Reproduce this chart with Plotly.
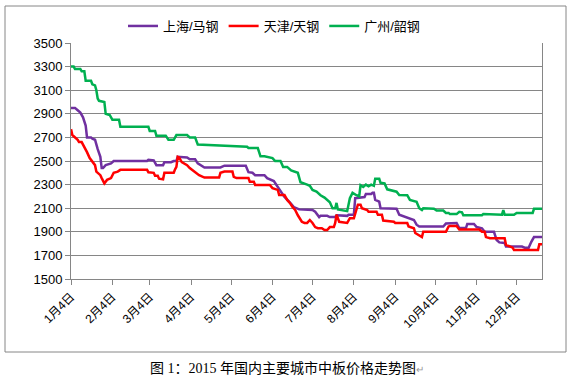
import plotly.graph_objects as go

# ---- data ----
sh_dates = ["2015-01-04","2015-01-07","2015-01-09","2015-01-11","2015-01-13","2015-01-15","2015-01-16","2015-01-19",
            "2015-01-20","2015-01-22","2015-01-24","2015-01-26","2015-01-27","2015-01-28","2015-01-30","2015-02-03",
            "2015-02-05","2015-03-02","2015-03-03","2015-03-07","2015-03-09","2015-03-14","2015-03-15","2015-03-20",
            "2015-03-22","2015-03-24","2015-03-25","2015-04-01","2015-04-03","2015-04-07","2015-04-09","2015-04-12",
            "2015-04-14","2015-04-26","2015-04-29","2015-05-15","2015-05-17","2015-05-20","2015-05-22","2015-05-29",
            "2015-05-31","2015-06-05","2015-06-07","2015-06-10","2015-06-13","2015-06-17","2015-06-20","2015-06-24",
            "2015-06-26","2015-07-04","2015-07-06","2015-07-09","2015-07-10","2015-07-15","2015-07-17","2015-07-21",
            "2015-07-22","2015-07-30","2015-07-31","2015-08-04","2015-08-05","2015-08-12","2015-08-13","2015-08-17",
            "2015-08-18","2015-08-19","2015-08-20","2015-08-23","2015-08-24","2015-08-27","2015-08-29","2015-09-05",
            "2015-09-07","2015-09-11","2015-09-13","2015-09-18","2015-09-20","2015-09-22","2015-10-10","2015-10-12",
            "2015-10-20","2015-10-22","2015-10-27","2015-10-28","2015-11-02","2015-11-04","2015-11-08","2015-11-10",
            "2015-11-17","2015-11-19","2015-11-21","2015-11-25","2015-11-26","2015-12-08","2015-12-10","2015-12-13",
            "2015-12-15","2015-12-17","2015-12-23"]
sh_values = [2950,2950,2930,2910,2870,2800,2700,2700,
             2690,2680,2600,2535,2440,2440,2465,2480,
             2500,2500,2510,2505,2465,2465,2490,2490,
             2500,2500,2535,2530,2515,2515,2480,2460,
             2445,2445,2460,2460,2405,2400,2380,2380,
             2355,2330,2295,2240,2195,2150,2110,2090,
             2090,2085,2070,2025,2035,2035,2025,2025,
             2040,2035,2045,2045,2185,2195,2220,2220,
             2230,2230,2170,2155,2100,2100,2095,2095,
             2045,2030,2020,2000,1960,1945,1945,1970,
             1975,1932,1932,1966,1966,1940,1930,1900,
             1900,1830,1810,1805,1775,1775,1765,1765,
             1815,1855,1855]

tj_dates = ["2015-01-04","2015-01-05","2015-01-09","2015-01-10","2015-01-12","2015-01-14","2015-01-16","2015-01-18",
            "2015-01-22","2015-01-23","2015-01-26","2015-01-27","2015-01-29","2015-01-31","2015-02-03","2015-02-05",
            "2015-02-08","2015-02-10","2015-03-02","2015-03-03","2015-03-07","2015-03-08","2015-03-10","2015-03-11",
            "2015-03-14","2015-03-15","2015-03-22","2015-03-23","2015-03-24","2015-03-25","2015-03-26","2015-03-28",
            "2015-04-01","2015-04-03","2015-04-05","2015-04-08","2015-04-10","2015-04-14","2015-04-25","2015-04-26",
            "2015-04-29","2015-05-05","2015-05-06","2015-05-08","2015-05-17","2015-05-18","2015-05-21","2015-05-22",
            "2015-06-02","2015-06-04","2015-06-08","2015-06-09","2015-06-13","2015-06-15","2015-06-17","2015-06-19",
            "2015-06-21","2015-06-23","2015-06-26","2015-06-28","2015-06-30","2015-07-02","2015-07-04","2015-07-06",
            "2015-07-08","2015-07-11","2015-07-13","2015-07-15","2015-07-17","2015-07-20","2015-07-21","2015-07-22",
            "2015-07-24","2015-07-30","2015-08-01","2015-08-04","2015-08-05","2015-08-07","2015-08-09","2015-08-10",
            "2015-08-14","2015-08-15","2015-08-21","2015-08-22","2015-08-25","2015-08-26","2015-09-03","2015-09-04",
            "2015-09-13","2015-09-14","2015-09-18","2015-09-19","2015-09-24","2015-09-25","2015-10-12","2015-10-14",
            "2015-10-15","2015-10-20","2015-10-22","2015-11-06","2015-11-08","2015-11-10","2015-11-11","2015-11-14",
            "2015-11-25","2015-11-26","2015-12-01","2015-12-02","2015-12-20","2015-12-21","2015-12-23"]
tj_values = [2770,2720,2680,2660,2660,2620,2575,2525,
             2465,2410,2380,2355,2310,2340,2355,2400,
             2410,2425,2425,2405,2400,2375,2375,2350,
             2345,2400,2400,2430,2450,2535,2530,2490,
             2465,2440,2425,2400,2380,2360,2360,2400,
             2410,2410,2365,2355,2355,2325,2325,2297,
             2297,2270,2255,2212,2212,2170,2145,2110,
             2085,2040,1985,1975,1975,2000,1975,1940,
             1930,1930,1915,1915,1940,1940,1975,2045,
             1985,1975,2015,2015,2060,2130,2130,2100,
             2085,2070,2070,2045,2045,1995,1985,1975,
             1975,1945,1930,1890,1855,1900,1900,1945,
             1950,1950,1920,1920,1900,1900,1855,1845,
             1845,1790,1765,1745,1745,1795,1795]

gz_dates = ["2015-01-04","2015-01-06","2015-01-07","2015-01-11","2015-01-12","2015-01-14","2015-01-15","2015-01-19",
            "2015-01-20","2015-01-22","2015-01-23","2015-01-24","2015-01-25","2015-01-29","2015-01-30","2015-02-02",
            "2015-02-04","2015-02-09","2015-02-10","2015-03-03","2015-03-04","2015-03-08","2015-03-09","2015-03-16",
            "2015-03-18","2015-03-22","2015-03-24","2015-04-01","2015-04-03","2015-04-07","2015-04-09","2015-04-26",
            "2015-05-16","2015-05-17","2015-05-24","2015-05-26","2015-05-29","2015-06-04","2015-06-06","2015-06-10",
            "2015-06-12","2015-06-15","2015-06-18","2015-06-23","2015-06-25","2015-06-30","2015-07-02","2015-07-04",
            "2015-07-07","2015-07-10","2015-07-13","2015-07-17","2015-07-19","2015-07-21","2015-07-22","2015-07-23",
            "2015-07-30","2015-08-01","2015-08-03","2015-08-06","2015-08-08","2015-08-09","2015-08-11","2015-08-13",
            "2015-08-15","2015-08-17","2015-08-19","2015-08-20","2015-08-23","2015-08-24","2015-08-27","2015-08-29",
            "2015-09-05","2015-09-07","2015-09-13","2015-09-15","2015-09-20","2015-09-22","2015-09-24","2015-09-25",
            "2015-10-03","2015-10-05","2015-10-10","2015-10-12","2015-10-14","2015-10-15","2015-10-20","2015-10-22",
            "2015-10-24","2015-10-25","2015-11-08","2015-11-09","2015-11-12","2015-11-14","2015-11-23","2015-11-24",
            "2015-11-25","2015-12-02","2015-12-04","2015-12-16","2015-12-17","2015-12-23"]
gz_values = [3300,3300,3280,3280,3260,3260,3180,3180,
             3150,3140,3100,3030,3010,3000,2900,2890,
             2850,2850,2790,2790,2755,2755,2715,2715,
             2680,2680,2720,2720,2700,2700,2640,2630,
             2620,2610,2610,2540,2540,2525,2500,2500,
             2450,2450,2420,2400,2320,2300,2290,2255,
             2240,2210,2190,2150,2100,2100,2145,2090,
             2075,2185,2230,2210,2200,2295,2280,2300,
             2285,2300,2290,2350,2350,2315,2310,2260,
             2240,2212,2210,2170,2155,2100,2085,2100,
             2095,2080,2080,2060,2060,2050,2050,2070,
             2065,2040,2040,2050,2050,2045,2045,2085,
             2045,2045,2060,2060,2095,2095]

series_names = ["上海/马钢", "天津/天钢", "广州/韶钢"]
series_colors = ["#7030A0", "#FF0000", "#00B050"]

tick_dates = ["2015-%02d-04" % m for m in range(1, 13)]
tick_labels = ["%d月4日" % m for m in range(1, 13)]

FONT = "Liberation Sans, Noto Sans CJK SC, sans-serif"

fig = go.Figure()
for name, color, xs, ys in zip(series_names, series_colors,
                               [sh_dates, tj_dates, gz_dates],
                               [sh_values, tj_values, gz_values]):
    fig.add_trace(go.Scatter(x=xs, y=ys, mode="lines", name=name,
                             line=dict(color=color, width=2.5)))

W, H = 569, 384
L, R, T, B = 71, 27, 43, 105
pw, ph = W - L - R, H - T - B

def px_x(p):
    return (p - L) / pw

def px_y(p):
    return (H - B - p) / ph

fig.update_layout(
    template="none",
    width=W, height=H, autosize=False,
    margin=dict(l=L, r=R, t=T, b=B, pad=0, autoexpand=False),
    paper_bgcolor="white", plot_bgcolor="white",
    font=dict(family=FONT, size=12, color="#000000"),
    showlegend=True,
    legend=dict(orientation="h", x=px_x(274), xanchor="center",
                y=px_y(26), yanchor="middle",
                font=dict(size=13, family=FONT),
                itemwidth=30, tracegroupgap=0, bgcolor="rgba(0,0,0,0)",
                borderwidth=0),
    xaxis=dict(type="date", range=["2015-01-04", "2015-12-23"],
               tickvals=tick_dates, ticktext=tick_labels, tickangle=-45,
               ticks="outside", ticklen=5, tickcolor="#868686",
               showgrid=False, zeroline=False, automargin=False,
               showline=True, linecolor="#868686", linewidth=1,
               tickfont=dict(size=12, family=FONT)),
    yaxis=dict(range=[1500, 3500], dtick=200, tick0=1500,
               ticks="outside", ticklen=5, tickcolor="#868686",
               showgrid=True, gridcolor="#868686", gridwidth=1,
               zeroline=False, showline=True, linecolor="#868686",
               linewidth=1, mirror=True, automargin=False,
               tickfont=dict(size=13, family=FONT)),
)

# outer chart border
fig.add_shape(type="rect", xref="paper", yref="paper",
              x0=px_x(5), x1=px_x(566), y0=px_y(352), y1=px_y(6),
              line=dict(color="#868686", width=1), fillcolor="rgba(0,0,0,0)",
              layer="below")

# caption below the chart
fig.add_annotation(xref="paper", yref="paper", x=px_x(287), y=px_y(368),
                   xanchor="center", yanchor="middle", showarrow=False,
                   text="图 1：2015 年国内主要城市中板价格走势图<span style='color:#999999;font-size:10px'>↵</span>",
                   font=dict(size=14, family="Liberation Serif, Noto Sans CJK SC, serif", color="#000000"))

fig.write_html("out.html", config={"responsive": False, "displayModeBar": False},
               post_script="document.body.style.margin='0';document.body.style.padding='0';")
